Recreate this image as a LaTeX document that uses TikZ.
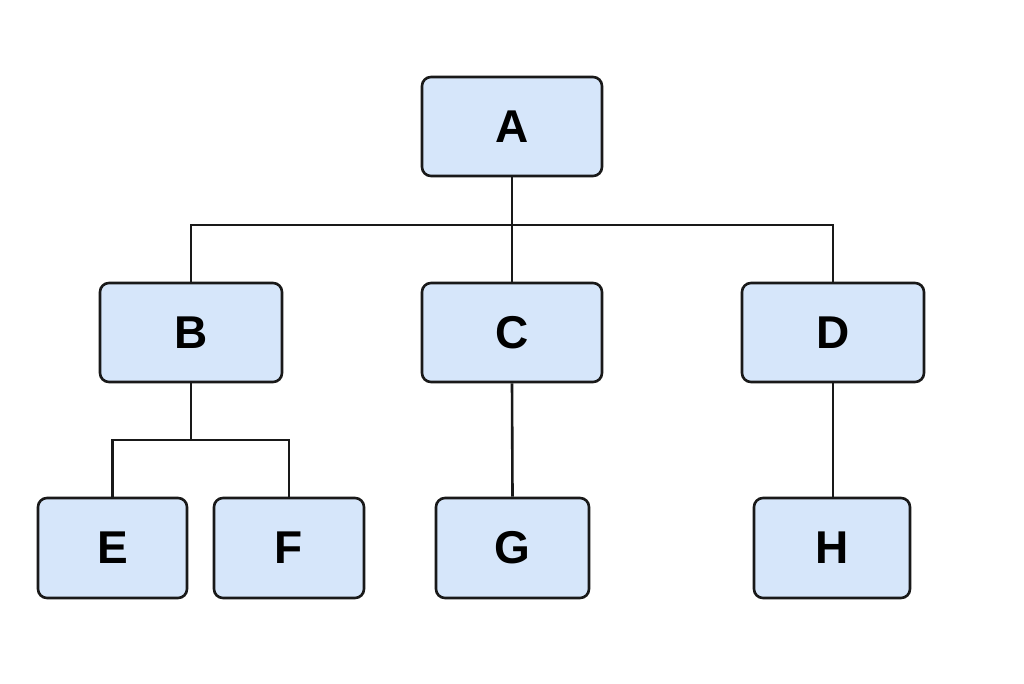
\documentclass[tikz,border=0pt]{standalone}
\usepackage{fontspec}
\setmainfont{Liberation Sans}
\begin{document}
\begin{tikzpicture}[x=1pt,y=-1pt,
  box/.style={draw=black!90,line width=2.6pt,fill={rgb,255:red,214;green,230;blue,250},rounded corners=9pt,minimum height=99pt,font=\fontsize{46}{46}\selectfont\bfseries,inner sep=0pt},
  ln/.style={line width=2.6pt,draw=black!90}]
\useasboundingbox[fill=white] (0,0) rectangle (1024,683);
\node[box,minimum width=180pt] (A) at (512,126.5) {A};
\node[box,minimum width=182pt] (B) at (191,332.5) {B};
\node[box,minimum width=180pt] (C) at (512,332.5) {C};
\node[box,minimum width=182pt] (D) at (833,332.5) {D};
\node[box,minimum width=149pt,minimum height=100pt] (E) at (112.5,548) {E};
\node[box,minimum width=150pt,minimum height=100pt] (F) at (289,548) {F};
\node[box,minimum width=153pt,minimum height=100pt] (G) at (512.5,548) {G};
\node[box,minimum width=156pt,minimum height=100pt] (H) at (832,548) {H};
\coordinate (busA) at (512,225);
\coordinate (busB) at (191,440);
\draw[ln] (A.south) -- (C.north);
\draw[ln] (B.north) |- (busA) -| (D.north);
\draw[ln] (B.south) -- (busB);
\draw[ln] (E.north) |- (busB) -| (F.north);
\draw[ln] (C.south) -- (G.north);
\draw[ln] (D.south) -- (D.south |- H.north);
\end{tikzpicture}
\end{document}
